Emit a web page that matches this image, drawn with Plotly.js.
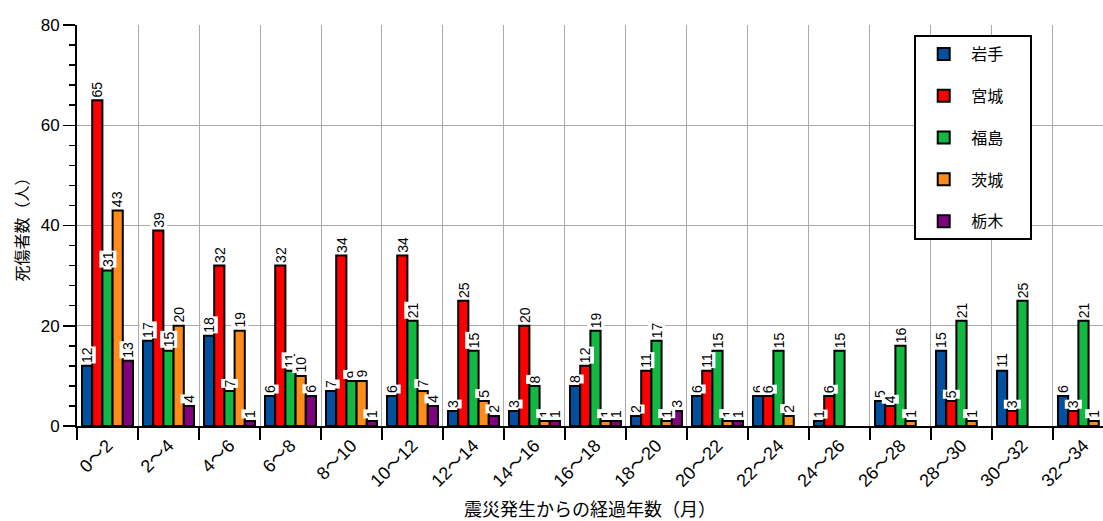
<!DOCTYPE html>
<html>
<head>
<meta charset="utf-8">
<script src="https://cdn.plot.ly/plotly-3.0.1.min.js"></script>
<style>html,body{margin:0;padding:0;background:#fff;}#chart{width:1103px;height:521px;}</style>
</head>
<body>
<div id="chart"></div>
<script>
const categories = ["0〜2","2〜4","4〜6","6〜8","8〜10","10〜12","12〜14","14〜16","16〜18","18〜20","20〜22","22〜24","24〜26","26〜28","28〜30","30〜32","32〜34"];
const seriesNames = ["岩手","宮城","福島","茨城","栃木"];
const iwate    = [12,17,18,6,7,6,3,3,8,2,6,6,1,5,15,11,6];
const miyagi   = [65,39,32,32,34,34,25,20,12,11,11,6,6,4,5,3,3];
const fukushima= [31,15,7,11,9,21,15,8,19,17,15,15,15,16,21,25,21];
const ibaraki  = [43,20,19,10,9,7,5,1,1,1,1,2,null,1,1,null,1];
const tochigi  = [13,4,1,6,1,4,2,1,1,3,1,null,null,null,null,null,null];
const seriesValues = [iwate, miyagi, fukushima, ibaraki, tochigi];
const colors = ["#00509f","#ff0000","#12b842","#ff8c19","#800080"];

const FONT = "Liberation Sans, Arial, Noto Sans CJK JP, sans-serif";
const JFONT = "Noto Sans CJK JP, sans-serif";
const bargap = 0.164;
const barW = (1 - bargap) / seriesValues.length;

const traces = seriesValues.map((vals, k) => ({
  type: "bar",
  name: seriesNames[k] + "\u3000\u2004",
  x: categories,
  y: vals,
  legendgroup: "g" + k,
  marker: {color: colors[k], line: {color: "#000", width: 2}},
  hoverinfo: "skip"
}));

const annotations = [];
seriesValues.forEach((vals, k) => {
  vals.forEach((v, i) => {
    if (v === null || v === undefined) return;
    annotations.push({
      x: i + (k - (seriesValues.length - 1) / 2) * barW,
      y: v,
      xref: "x", yref: "y",
      text: String(v),
      showarrow: false,
      textangle: -90,
      yanchor: "bottom",
      xanchor: "center",
      yshift: 2,
      bgcolor: "#ffffff",
      borderpad: 0,
      font: {family: FONT, size: 14, color: "#000"}
    });
  });
});

const layout = {
  width: 1103, height: 521,
  margin: {l: 77, r: 0, t: 25, b: 95},
  paper_bgcolor: "#fff", plot_bgcolor: "#fff",
  barmode: "group",
  bargap: bargap,
  bargroupgap: 0,
  font: {family: FONT, size: 16, color: "#000"},
  showlegend: true,
  legend: {
    x: 0.816, y: 0.975, xanchor: "left", yanchor: "top",
    bgcolor: "#fff", bordercolor: "#000", borderwidth: 2,
    font: {family: JFONT, size: 16, color: "#000"},
    tracegroupgap: 18,
    traceorder: "grouped",
    itemwidth: 45
  },
  xaxis: {
    type: "category",
    range: [-0.5, 16.32],
    tickson: "boundaries",
    ticks: "outside", ticklen: 12, tickwidth: 1.5, tickcolor: "#000",
    tickangle: -45,
    tickfont: {family: FONT, size: 18},
    showgrid: true, gridcolor: "#aaaaaa", gridwidth: 1,
    showline: true, linecolor: "#000", linewidth: 2,
    title: {text: "震災発生からの経過年数（月）", font: {family: JFONT, size: 18}, standoff: 16}
  },
  yaxis: {
    range: [0, 80],
    dtick: 20,
    ticks: "outside", ticklen: 12, tickwidth: 1.5, tickcolor: "#000",
    minor: {dtick: 4, ticks: "outside", ticklen: 6, tickcolor: "#000", showgrid: false},
    tickfont: {family: FONT, size: 17},
    showgrid: true, gridcolor: "#aaaaaa", gridwidth: 1,
    showline: true, linecolor: "#000", linewidth: 2,
    zeroline: false,
    title: {text: "死傷者数（人）", font: {family: JFONT, size: 16}, standoff: 8}
  },
  annotations: annotations
};

Plotly.newPlot("chart", traces, layout, {staticPlot: true, displayModeBar: false});
</script>
</body>
</html>
